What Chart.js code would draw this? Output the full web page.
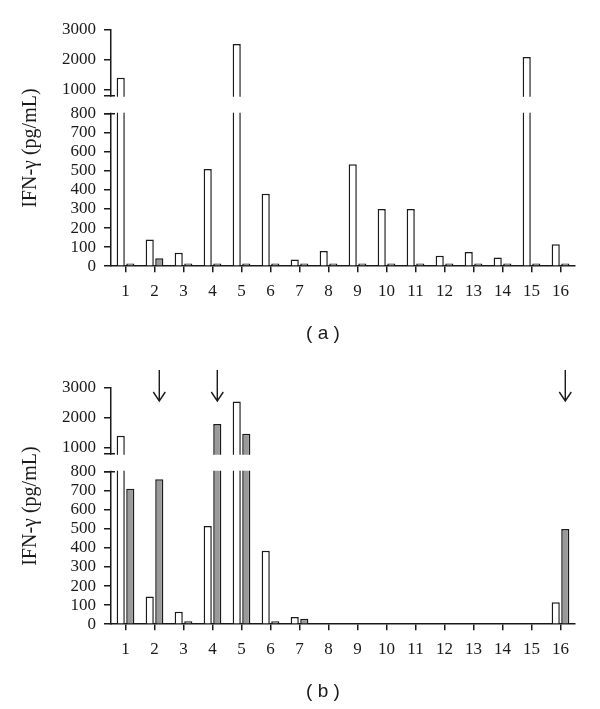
<!DOCTYPE html>
<html>
<head>
<meta charset="utf-8">
<script src="https://cdn.jsdelivr.net/npm/chart.js"></script>
<style>
  body { margin: 0; background: #fff; overflow: hidden; }
  canvas { position: absolute; left: 0; }
  #chartA { top: 0; }
  #chartB { top: 358px; }
</style>
</head>
<body>
<canvas id="chartA" width="600" height="350"></canvas>
<canvas id="chartB" width="600" height="350"></canvas>
<script>
const categories = ['1', '2', '3', '4', '5', '6', '7', '8', '9', '10', '11', '12', '13', '14', '15', '16'];

// panel (a)
const aWhite = [1400, 140, 70, 510, 2530, 380, 35, 80, 535, 300, 300, 55, 75, 45, 2100, 115];
const aGray = [14, 42, 14, 14, 14, 14, 14, 14, 14, 14, 14, 14, 14, 14, 14, 14];

// panel (b)
const bWhite = [1400, 145, 65, 515, 2550, 385, 38, null, null, null, null, null, null, null, null, 115];
const bGray = [710, 760, 15, 1800, 1470, 15, 28, null, null, null, null, null, null, null, null, 500];

const yTicks = [0, 100, 200, 300, 400, 500, 600, 700, 800, 1000, 2000, 3000];
const arrowCats = ['2', '4', '16'];

const INK = '#1a1a1a';
const SERIF = "'Liberation Serif', 'DejaVu Serif', serif";
const SANS = "'Liberation Sans', Arial, sans-serif";

// broken y axis: 0-800 in the lower part, 800-3000 squeezed above a gap
const BREAK_AT = 800;
const LOW_FRAC = 153 / 237;
const GAP_FRAC = 18 / 237;

class BrokenScale extends Chart.LinearScale {
  getPixelForValue(value) {
    const h = this.bottom - this.top;
    const low = h * LOW_FRAC;
    const gap = h * GAP_FRAC;
    const up = h - low - gap;
    if (value <= BREAK_AT) return this.bottom - (value / BREAK_AT) * low;
    return this.bottom - low - gap - ((value - BREAK_AT) / (this.max - BREAK_AT)) * up;
  }
  getValueForPixel(pixel) {
    const h = this.bottom - this.top;
    const low = h * LOW_FRAC;
    const gap = h * GAP_FRAC;
    const up = h - low - gap;
    const d = this.bottom - pixel;
    if (d <= low) return d / low * BREAK_AT;
    return BREAK_AT + (d - low - gap) / up * (this.max - BREAK_AT);
  }
}
BrokenScale.id = 'broken';
BrokenScale.defaults = {};
Chart.register(BrokenScale);

const breakPlugin = {
  id: 'axisBreak',
  afterDatasetsDraw(chart) {
    const { ctx, chartArea: area } = chart;
    const y = chart.scales.y;
    const yLow = y.getPixelForValue(BREAK_AT);
    const yUp = yLow - (y.bottom - y.top) * GAP_FRAC;
    ctx.save();
    ctx.fillStyle = '#fff';
    ctx.fillRect(area.left - 12, yUp + 1, area.right - area.left + 24, yLow - yUp - 2);
    ctx.strokeStyle = INK;
    ctx.lineWidth = 1.5;
    ctx.beginPath();
    [yUp, yLow].forEach(py => {
      ctx.moveTo(area.left - 7, py);
      ctx.lineTo(area.left + 4, py);
    });
    ctx.stroke();
    ctx.restore();
  }
};

const arrowPlugin = {
  id: 'arrows',
  afterDatasetsDraw(chart) {
    const { ctx, chartArea: area } = chart;
    const meta = chart.getDatasetMeta(1);
    ctx.save();
    ctx.strokeStyle = INK;
    ctx.lineWidth = 1.4;
    arrowCats.forEach(c => {
      const bar = meta.data[categories.indexOf(c)];
      const x = bar.x;
      const y0 = area.top - 18;
      const y1 = area.top + 13;
      ctx.beginPath();
      ctx.moveTo(x, y0);
      ctx.lineTo(x, y1);
      ctx.moveTo(x - 6, y1 - 9);
      ctx.lineTo(x, y1);
      ctx.lineTo(x + 6, y1 - 9);
      ctx.stroke();
    });
    ctx.restore();
  }
};

function barSet(values, fill) {
  return {
    data: values,
    backgroundColor: fill,
    borderColor: INK,
    borderWidth: 1.5,
    categoryPercentage: 0.66,
    barPercentage: 0.85,
    clip: 0
  };
}

function makeChart(id, white, gray, panel, extra) {
  return new Chart(document.getElementById(id), {
    type: 'bar',
    data: {
      labels: categories,
      datasets: [barSet(white, '#ffffff'), barSet(gray, '#9a9a9a')]
    },
    options: {
      responsive: false,
      animation: false,
      devicePixelRatio: 1,
      layout: { padding: { left: 46, right: 0, top: 30, bottom: 5 } },
      plugins: {
        legend: { display: false },
        tooltip: { enabled: false },
        title: {
          display: true,
          position: 'bottom',
          text: panel,
          color: INK,
          font: { family: SANS, size: 19, weight: 'normal' },
          padding: { top: 16, bottom: 0 }
        }
      },
      scales: {
        x: {
          grid: { offset: false, drawOnChartArea: false, tickLength: 6, color: INK, lineWidth: 1.5 },
          border: { color: INK, width: 1.5 },
          ticks: { color: INK, font: { family: SERIF, size: 17 }, padding: 9, autoSkip: false, maxRotation: 0 },
          afterFit(s) { s.height = 40; }
        },
        y: {
          type: 'broken',
          min: 0,
          max: 3000,
          afterBuildTicks(s) { s.ticks = yTicks.map(v => ({ value: v })); },
          grid: { drawOnChartArea: false, tickLength: 7, color: INK, lineWidth: 1.5 },
          border: { color: INK, width: 1.5 },
          ticks: {
            callback: v => String(v),
            color: INK,
            font: { family: SERIF, size: 17 },
            padding: 8,
            autoSkip: false
          },
          title: {
            display: true,
            text: 'IFN-γ (pg/mL)',
            color: INK,
            font: { family: SERIF, size: 20 },
            padding: { top: -27, bottom: 0 }
          },
          afterFit(s) { s.width = 65; }
        },
        // empty spacer on the right so the panel label sits where the original has it
        yR: {
          type: 'linear',
          position: 'right',
          grid: { display: false },
          border: { display: false },
          ticks: { display: false },
          afterFit(s) { s.width = 25; }
        }
      }
    },
    plugins: [breakPlugin].concat(extra || [])
  });
}

makeChart('chartA', aWhite, aGray, '( a )');
makeChart('chartB', bWhite, bGray, '( b )', [arrowPlugin]);
</script>
</body>
</html>
